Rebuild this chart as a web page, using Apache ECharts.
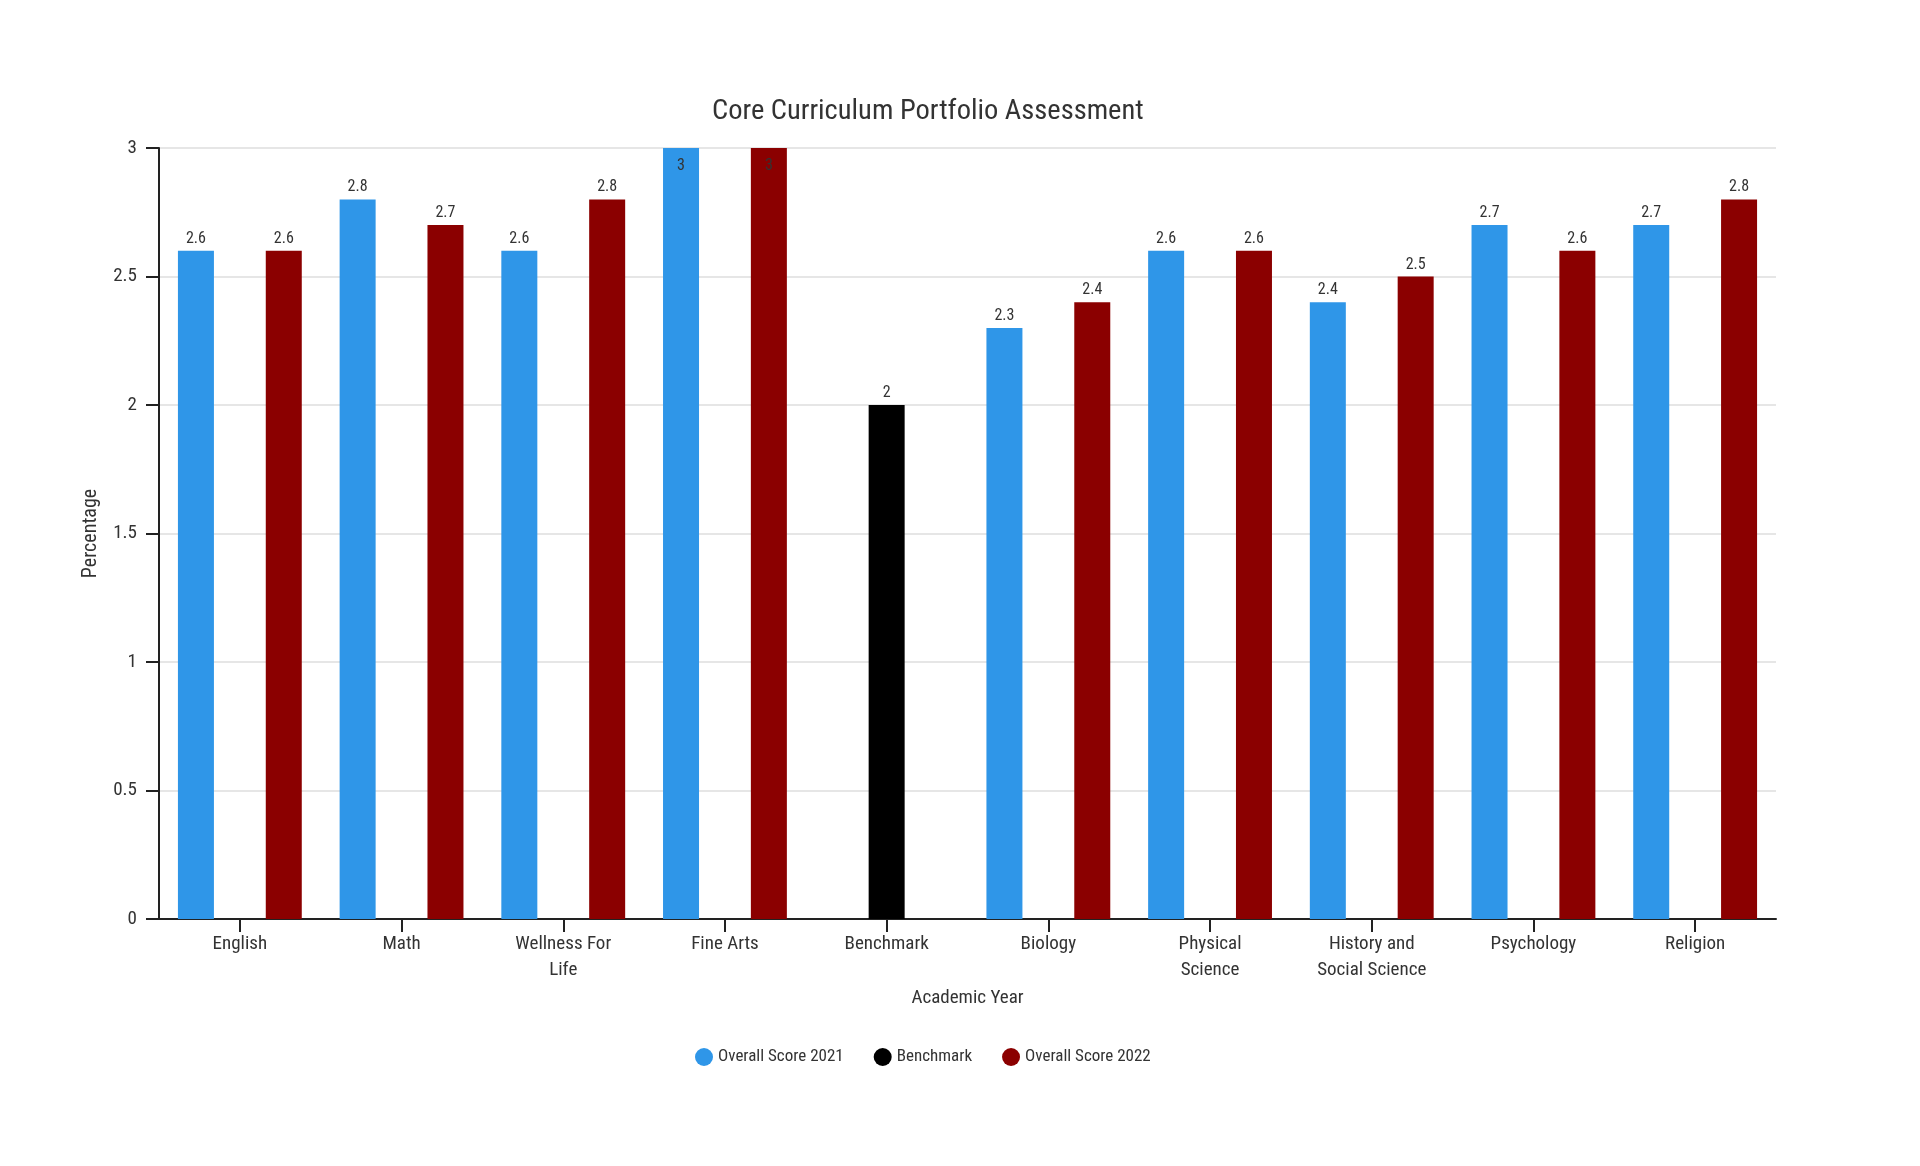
<!DOCTYPE html>
<html>
<head>
<meta charset="utf-8">
<style>
  html, body { margin: 0; padding: 0; background: #fff; }
  #chart { width: 1920px; height: 1166px; }
</style>
<script src="https://cdn.jsdelivr.net/npm/echarts@6/dist/echarts.min.js"></script>
</head>
<body>
<div id="chart"></div>
<script>
const categories = ["English", "Math", "Wellness For\nLife", "Fine Arts", "Benchmark", "Biology", "Physical\nScience", "History and\nSocial Science", "Psychology", "Religion"];
const score2021 = [2.6, 2.8, 2.6, 3, null, 2.3, 2.6, 2.4, 2.7, 2.7];
const benchmark = [null, null, null, null, 2, null, null, null, null, null];
const score2022 = [2.6, 2.7, 2.8, 3, null, 2.4, 2.6, 2.5, 2.6, 2.8];
const yTicks = { min: 0, max: 3, interval: 0.5 };

const FONT = '"Roboto Condensed", "Liberation Sans Narrow", "DejaVu Sans Condensed", Roboto, sans-serif';

function toData(arr) {
  return arr.map(v => {
    if (v === null) return null;
    if (v >= yTicks.max) return { value: v, label: { position: 'insideTop', distance: 10 } };
    return v;
  });
}

const labelCfg = { show: true, position: 'top', distance: 4, color: '#333', fontSize: 16, fontFamily: FONT };

const chart = echarts.init(document.getElementById('chart'));
chart.setOption({
  animation: false,
  textStyle: { fontFamily: FONT },
  title: {
    text: 'Core Curriculum Portfolio Assessment',
    left: 707, top: 92,
    textStyle: { fontSize: 28.5, fontWeight: 'normal', color: '#333', fontFamily: FONT }
  },
  legend: {
    left: 690, top: 1043,
    icon: 'circle', itemWidth: 18, itemHeight: 18, itemGap: 30,
    textStyle: { fontSize: 17, color: '#333', fontFamily: FONT },
    data: ['Overall Score 2021', 'Benchmark', 'Overall Score 2022']
  },
  grid: { left: 159, right: 144, top: 148, bottom: 247, containLabel: false },
  xAxis: {
    type: 'category',
    data: categories,
    name: 'Academic Year',
    nameLocation: 'middle',
    nameGap: 70,
    nameTextStyle: { fontSize: 19, color: '#333', fontFamily: FONT },
    axisLine: { lineStyle: { color: '#222', width: 2 } },
    axisTick: { show: true, length: 13, alignWithLabel: true, lineStyle: { color: '#222', width: 2 } },
    axisLabel: { fontSize: 19, color: '#333', margin: 12, lineHeight: 26, interval: 0, fontFamily: FONT },
    splitLine: { show: false }
  },
  yAxis: {
    type: 'value',
    min: yTicks.min, max: yTicks.max, interval: yTicks.interval,
    name: 'Percentage',
    nameLocation: 'middle',
    nameGap: 58,
    nameTextStyle: { fontSize: 20, color: '#333', fontFamily: FONT },
    axisLine: { show: true, lineStyle: { color: '#222', width: 2 } },
    axisTick: { show: true, length: 13, inside: false, lineStyle: { color: '#222', width: 2 } },
    axisLabel: { fontSize: 19, color: '#333', margin: 22, fontFamily: FONT },
    splitLine: { show: true, lineStyle: { color: '#e6e6e6', width: 2 } }
  },
  series: [
    { name: 'Overall Score 2021', type: 'bar', data: toData(score2021), barWidth: 36, barGap: '22%', barCategoryGap: '23%',
      itemStyle: { color: '#2f96e8' }, label: labelCfg },
    { name: 'Benchmark', type: 'bar', data: toData(benchmark), barWidth: 36, barGap: '22%',
      itemStyle: { color: '#000000' }, label: labelCfg },
    { name: 'Overall Score 2022', type: 'bar', data: toData(score2022), barWidth: 36, barGap: '22%',
      itemStyle: { color: '#8b0000' }, label: labelCfg }
  ]
});
</script>
</body>
</html>
